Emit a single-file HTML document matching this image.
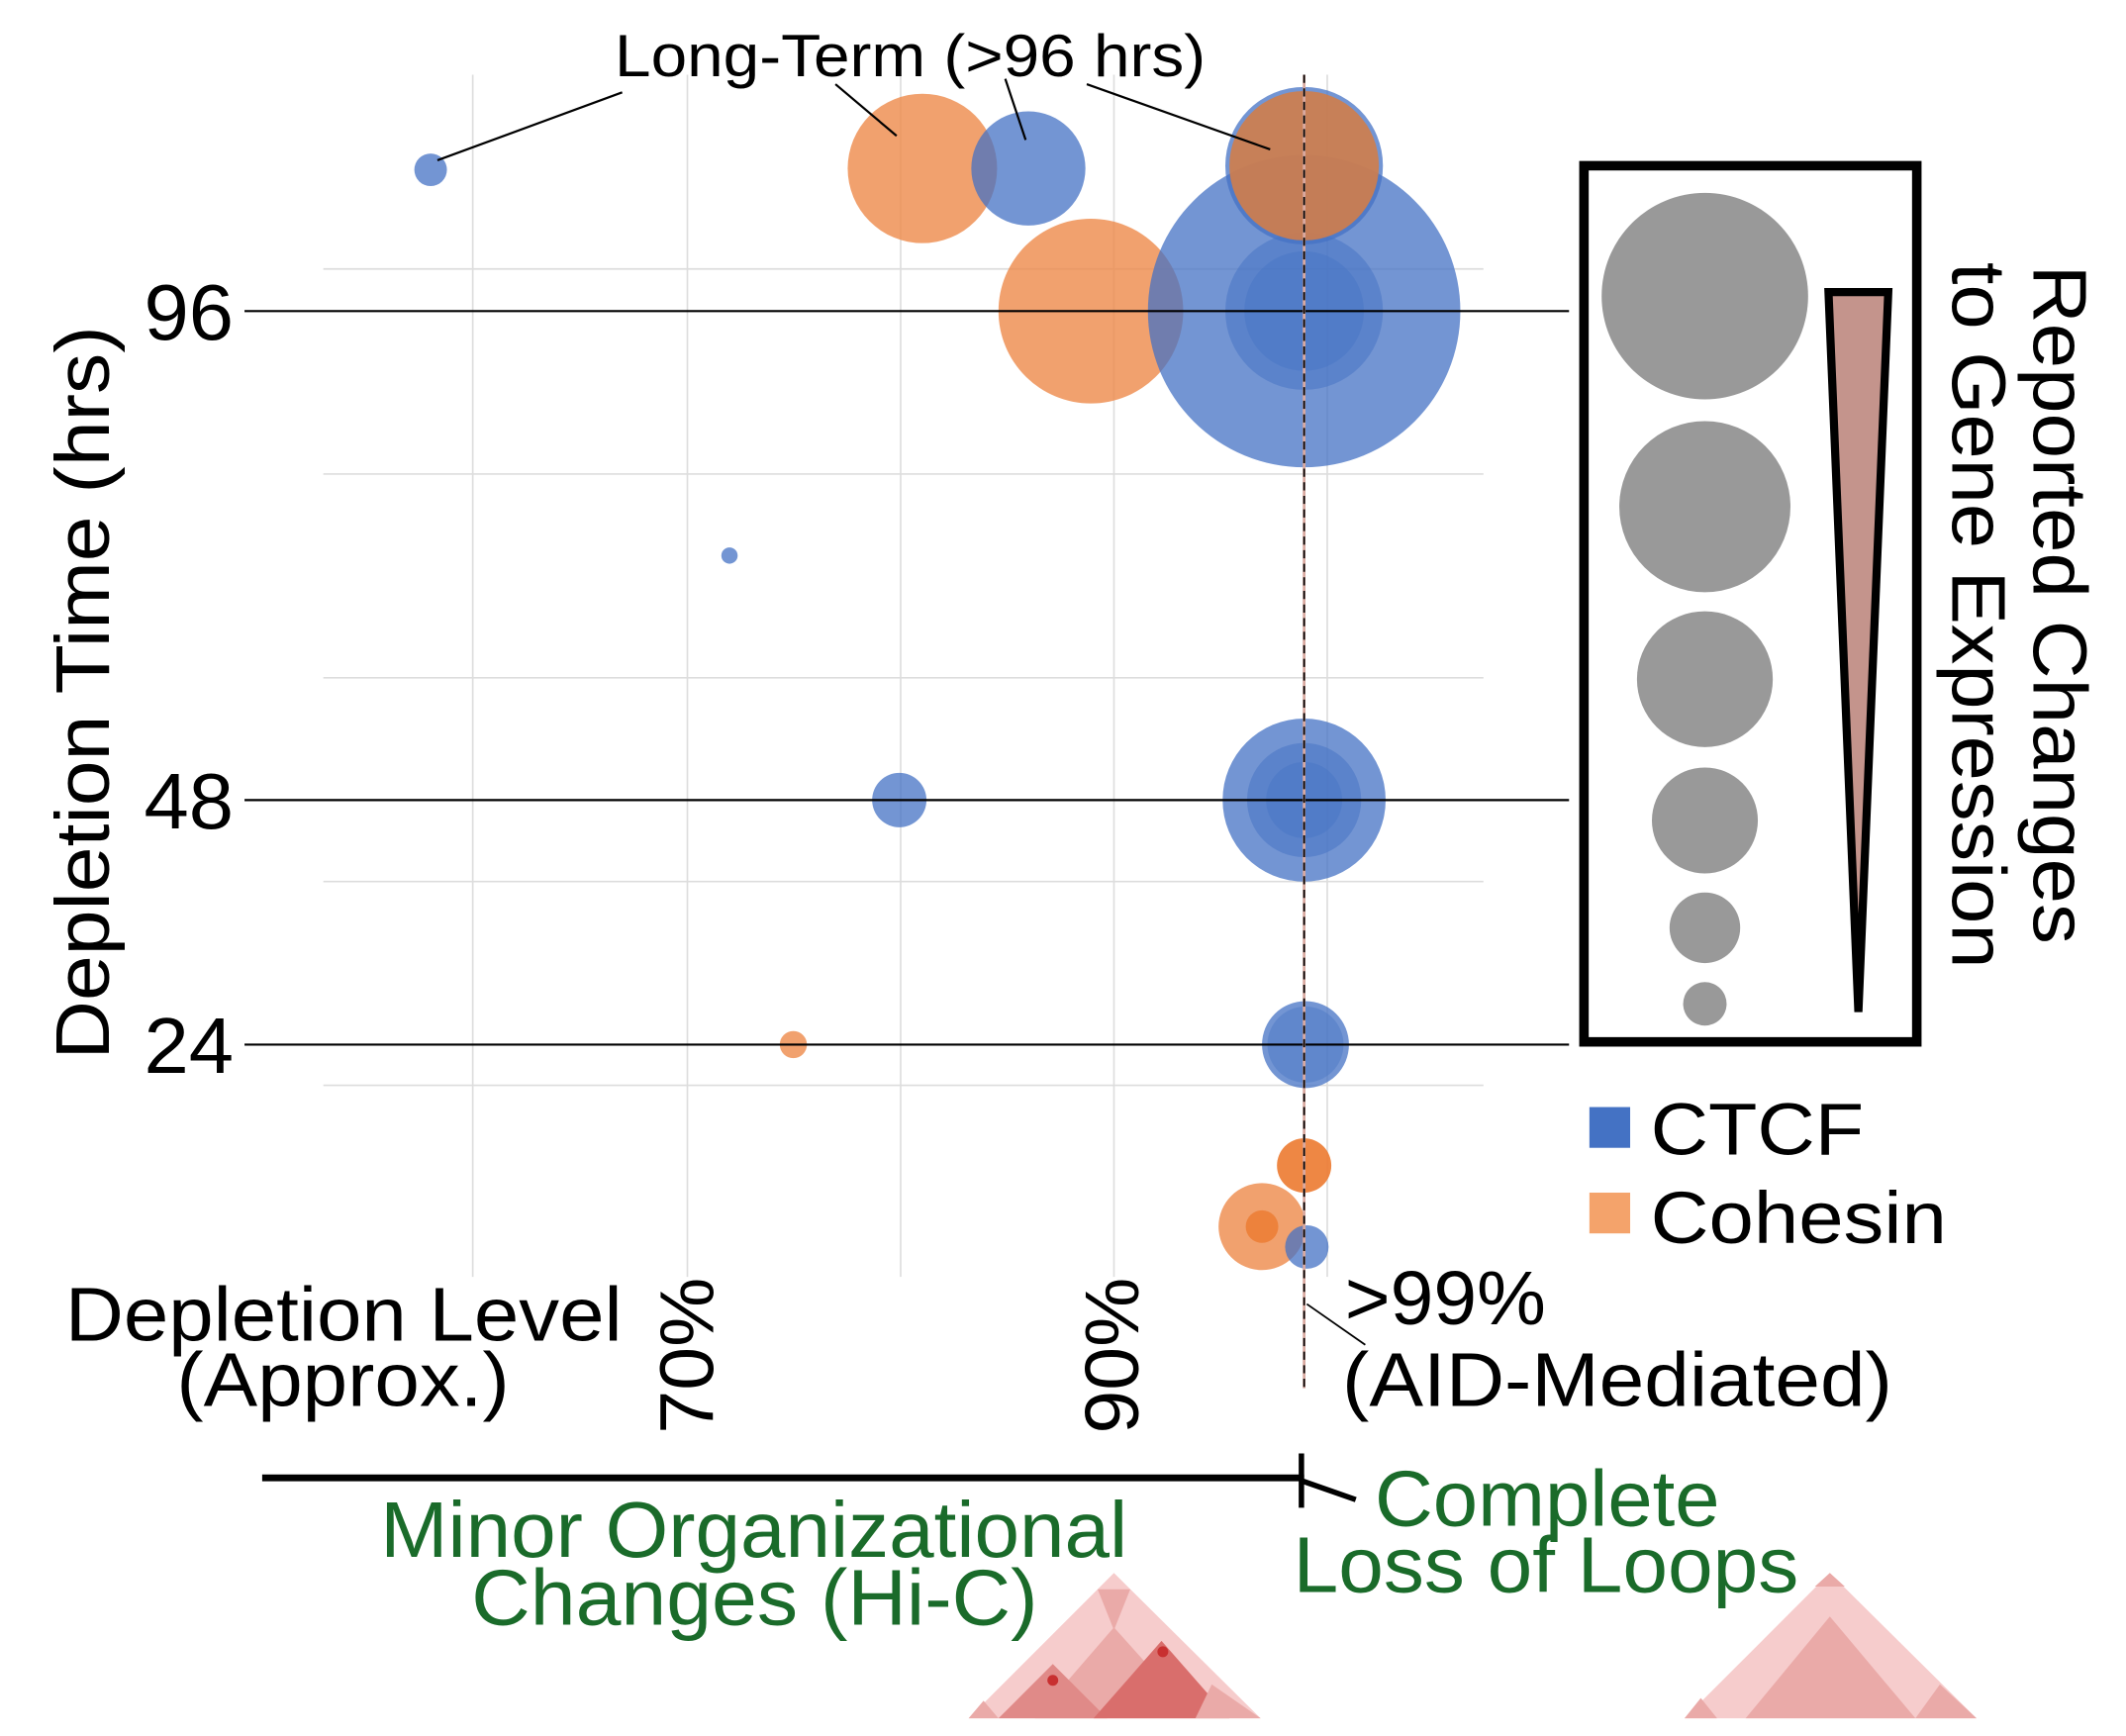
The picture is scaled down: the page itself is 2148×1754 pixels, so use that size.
<!DOCTYPE html>
<html><head><meta charset="utf-8"><style>
html,body{margin:0;padding:0;background:#fff;}
svg{display:block;}
text{font-family:"Liberation Sans",Arial,sans-serif;}
</style></head><body>
<svg width="2148" height="1754" viewBox="0 0 1565 1278" preserveAspectRatio="none" xmlns="http://www.w3.org/2000/svg">
<rect width="1600" height="1300" fill="#fff"/>
<g stroke="#dddddd" stroke-width="1.2">
<line x1="348" y1="55" x2="348" y2="940"/><line x1="506" y1="55" x2="506" y2="940"/>
<line x1="663" y1="55" x2="663" y2="940"/><line x1="820" y1="55" x2="820" y2="940"/>
<line x1="977" y1="55" x2="977" y2="940"/>
<line x1="238" y1="198" x2="1092" y2="198"/><line x1="238" y1="349" x2="1092" y2="349"/>
<line x1="238" y1="499" x2="1092" y2="499"/><line x1="238" y1="649" x2="1092" y2="649"/>
<line x1="238" y1="799" x2="1092" y2="799"/>
</g>
<g>
<circle cx="317" cy="125" r="12" fill="#4472c4" fill-opacity="0.75"/>
<circle cx="679" cy="124" r="55" fill="#ee8a4a" fill-opacity="0.8"/>
<circle cx="757" cy="124" r="42" fill="#4472c4" fill-opacity="0.75"/>
<circle cx="803" cy="229" r="68" fill="#ee8a4a" fill-opacity="0.8"/>
<circle cx="960" cy="229" r="115" fill="#4472c4" fill-opacity="0.75"/>
<circle cx="960" cy="229" r="58" fill="#4472c4" fill-opacity="0.5"/>
<circle cx="960" cy="229" r="44" fill="#4472c4" fill-opacity="0.4"/>
<circle cx="960" cy="122" r="58" fill="#4472c4" fill-opacity="0.75"/>
<circle cx="960" cy="122" r="55" fill="#d07d4a" fill-opacity="0.9"/>
<circle cx="537" cy="409" r="6" fill="#4472c4" fill-opacity="0.75"/>
<circle cx="662" cy="589" r="20" fill="#4472c4" fill-opacity="0.75"/>
<circle cx="960" cy="589" r="60" fill="#4472c4" fill-opacity="0.75"/>
<circle cx="960" cy="589" r="42" fill="#4472c4" fill-opacity="0.5"/>
<circle cx="960" cy="589" r="28" fill="#4472c4" fill-opacity="0.4"/>
<circle cx="584" cy="769" r="10" fill="#ee8a4a" fill-opacity="0.8"/>
<circle cx="961" cy="769" r="32" fill="#4472c4" fill-opacity="0.75"/>
<circle cx="961" cy="769" r="28" fill="#4472c4" fill-opacity="0.4"/>
<circle cx="960" cy="858" r="20" fill="#ec7a30" fill-opacity="0.9"/>
<circle cx="929" cy="903" r="32" fill="#ee8a4a" fill-opacity="0.8"/>
<circle cx="929" cy="903" r="12" fill="#ec7a30" fill-opacity="0.8"/>
<circle cx="962" cy="918" r="16" fill="#4472c4" fill-opacity="0.75"/>
</g>
<g stroke="#000" stroke-width="1.6">
<line x1="180" y1="229" x2="1155" y2="229"/>
<line x1="180" y1="589" x2="1155" y2="589"/>
<line x1="180" y1="769" x2="1155" y2="769"/>
</g>
<line x1="960" y1="55" x2="960" y2="1022" stroke="#d9a9a0" stroke-width="2"/>
<line x1="960" y1="55" x2="960" y2="1022" stroke="#000" stroke-width="1.3" stroke-dasharray="6,4"/>
<g font-size="58" text-anchor="end">
<text x="172" y="250" textLength="66" lengthAdjust="spacingAndGlyphs">96</text>
<text x="172" y="610" textLength="66" lengthAdjust="spacingAndGlyphs">48</text>
<text x="172" y="790" textLength="66" lengthAdjust="spacingAndGlyphs">24</text>
</g>
<text transform="translate(80,510) rotate(-90)" font-size="56" text-anchor="middle" textLength="540" lengthAdjust="spacingAndGlyphs">Depletion Time (hrs)</text>
<text x="670" y="56" font-size="44" text-anchor="middle" textLength="435" lengthAdjust="spacingAndGlyphs">Long-Term (&gt;96 hrs)</text>
<g stroke="#000" stroke-width="1.6">
<line x1="458" y1="68" x2="322" y2="118"/>
<line x1="615" y1="62" x2="660" y2="100"/>
<line x1="740" y1="58" x2="755" y2="103"/>
<line x1="800" y1="62" x2="935" y2="110"/>
</g>
<rect x="1166" y="122" width="245" height="645" fill="none" stroke="#000" stroke-width="7"/>
<g fill="#999">
<circle cx="1255" cy="218" r="76"/><circle cx="1255" cy="373" r="63"/>
<circle cx="1255" cy="500" r="50"/><circle cx="1255" cy="604" r="39"/>
<circle cx="1255" cy="683" r="26"/><circle cx="1255" cy="739" r="16"/>
</g>
<polygon points="1346,215 1390,215 1368,745" fill="#c4948c" stroke="#000" stroke-width="6"/>
<g font-size="56" text-anchor="middle">
<text transform="translate(1497,445) rotate(90)" textLength="500" lengthAdjust="spacingAndGlyphs">Reported Changes</text>
<text transform="translate(1437,453) rotate(90)" textLength="520" lengthAdjust="spacingAndGlyphs">to Gene Expression</text>
</g>
<rect x="1170" y="815" width="30" height="30" fill="#4472c4"/>
<text x="1215" y="850" font-size="54" textLength="157" lengthAdjust="spacingAndGlyphs">CTCF</text>
<rect x="1170" y="878" width="30" height="30" fill="#f4a36b"/>
<text x="1215" y="915" font-size="54" textLength="218" lengthAdjust="spacingAndGlyphs">Cohesin</text>
<text x="48" y="987" font-size="56" textLength="410" lengthAdjust="spacingAndGlyphs">Depletion Level</text>
<text x="130" y="1035" font-size="56" textLength="245" lengthAdjust="spacingAndGlyphs">(Approx.)</text>
<text transform="translate(525,998) rotate(-90)" font-size="56" text-anchor="middle" textLength="115" lengthAdjust="spacingAndGlyphs">70%</text>
<text transform="translate(838,998) rotate(-90)" font-size="56" text-anchor="middle" textLength="115" lengthAdjust="spacingAndGlyphs">90%</text>
<text x="990" y="975" font-size="56" textLength="148" lengthAdjust="spacingAndGlyphs">&gt;99%</text>
<text x="988" y="1035" font-size="56" textLength="405" lengthAdjust="spacingAndGlyphs">(AID-Mediated)</text>
<line x1="962" y1="960" x2="1005" y2="990" stroke="#000" stroke-width="1.3"/>
<line x1="193" y1="1088" x2="960" y2="1088" stroke="#000" stroke-width="5"/>
<line x1="958" y1="1070" x2="958" y2="1110" stroke="#000" stroke-width="4"/>
<line x1="958" y1="1090" x2="998" y2="1104" stroke="#000" stroke-width="4"/>
<g fill="#1a6b2a" font-size="58">
<text x="280" y="1146" textLength="550" lengthAdjust="spacingAndGlyphs">Minor Organizational</text>
<text x="347" y="1196" textLength="417" lengthAdjust="spacingAndGlyphs">Changes (Hi-C)</text>
<text x="1012" y="1123" textLength="254" lengthAdjust="spacingAndGlyphs">Complete</text>
<text x="952" y="1172" textLength="372" lengthAdjust="spacingAndGlyphs">Loss of Loops</text>
</g>
<g>
<polygon points="713,1265 820,1158 928,1265" fill="#f6cccc"/>
<polygon points="762,1265 820,1198 880,1265" fill="#eaaaa8"/>
<polygon points="808,1170 832,1170 820,1200" fill="#eaaaa8"/>
<polygon points="735,1265 775,1225 815,1265" fill="#e08a88"/>
<polygon points="805,1265 855,1208 905,1265" fill="#d96e6c"/>
<polygon points="713,1265 724,1252 735,1265" fill="#eaaaa8"/>
<polygon points="892,1240 928,1265 880,1265" fill="#eaaaa8"/>
<circle cx="775" cy="1237" r="4" fill="#c83030"/>
<circle cx="856" cy="1216" r="4" fill="#c83030"/>
</g>
<g>
<polygon points="1240,1265 1347,1158 1455,1265" fill="#f6cccc"/>
<polygon points="1336,1168 1358,1168 1347,1158" fill="#eaaaa8"/>
<polygon points="1285,1265 1347,1190 1410,1265" fill="#eaaaa8"/>
<polygon points="1240,1265 1252,1250 1264,1265" fill="#eaaaa8"/>
<polygon points="1410,1265 1428,1240 1455,1265" fill="#eaaaa8"/>
</g>
</svg>
</body></html>
